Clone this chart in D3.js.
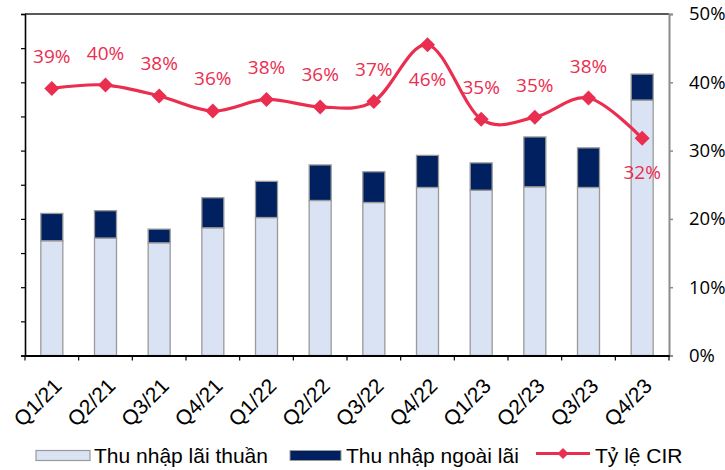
<!DOCTYPE html>
<html>
<head>
<meta charset="utf-8">
<script src="https://cdn.jsdelivr.net/npm/d3@7"></script>
<style>
  html, body { margin: 0; padding: 0; background: #fff; }
  svg { display: block; }
</style>
</head>
<body>
<svg id="chart" width="725" height="470"></svg>
<script>
// ---- Data ----
const categories = ["Q1/21","Q2/21","Q3/21","Q4/21","Q1/22","Q2/22","Q3/22","Q4/22","Q1/23","Q2/23","Q3/23","Q4/23"];
const netInterest = [16.8, 17.2, 16.5, 18.7, 20.2, 22.7, 22.4, 24.6, 24.2, 24.7, 24.6, 37.4];
const nonInterest = [4.0, 4.0, 2.0, 4.4, 5.3, 5.2, 4.5, 4.7, 4.0, 7.3, 5.8, 3.8];
const cirValues = [39.1, 39.6, 38.0, 35.8, 37.5, 36.4, 37.2, 45.5, 34.6, 34.9, 37.7, 31.8];
const cirLabels = ["39%","40%","38%","36%","38%","36%","37%","46%","35%","35%","38%","32%"];
const cirLabelBelow = [false,false,false,false,false,false,false,true,false,false,false,true];
const rightTicks = [0, 10, 20, 30, 40, 50];
const leftTicks = [0,5,10,15,20,25,30,35,40,45,50];
const legendNames = ["Thu nhập lãi thuần", "Thu nhập ngoài lãi", "Tỷ lệ CIR"];

// ---- Layout ----
const L = 25, R = 669, T = 14, B = 355.5;
const colLight = "#DAE3F3", colDark = "#002060", colLine = "#EA2E50", colBarStroke = "#9a9a9a";

const svg = d3.select("#chart");

const x = d3.scaleBand().domain(categories).range([L, R]).paddingInner(0.59).paddingOuter(0.295);
const xb = d3.scaleBand().domain(categories).range([L, R]);
const yL = d3.scaleLinear().domain([0, 50]).range([B, T]);
const yR = d3.scaleLinear().domain([0, 50]).range([B, T]);

const data = categories.map((c, i) => ({c, a: netInterest[i], b: nonInterest[i], r: cirValues[i], lab: cirLabels[i], below: cirLabelBelow[i]}));

// bars
const g = svg.append("g");
g.selectAll("rect.light").data(data).enter().append("rect")
  .attr("x", d => x(d.c)).attr("width", x.bandwidth())
  .attr("y", d => yL(d.a)).attr("height", d => yL(0) - yL(d.a))
  .attr("fill", colLight).attr("stroke", colBarStroke).attr("stroke-width", 1.3);
g.selectAll("rect.dark").data(data).enter().append("rect")
  .attr("x", d => x(d.c)).attr("width", x.bandwidth())
  .attr("y", d => yL(d.a + d.b)).attr("height", d => yL(d.a) - yL(d.a + d.b))
  .attr("fill", colDark).attr("stroke", colBarStroke).attr("stroke-width", 1.3);

// top border
svg.append("line").attr("x1", L).attr("x2", R).attr("y1", T).attr("y2", T)
  .attr("stroke", "#222").attr("stroke-width", 1.5);

// left axis (no labels)
const leftAxis = svg.append("g").attr("transform", `translate(${L},0)`)
  .call(d3.axisLeft(yL).tickValues(leftTicks).tickSize(4).tickFormat(""));
leftAxis.select(".domain").attr("stroke", "#000").attr("stroke-width", 1.6);
leftAxis.selectAll(".tick line").attr("stroke", "#000").attr("stroke-width", 1.2);

// right axis
const rightAxis = svg.append("g").attr("transform", `translate(${R},0)`)
  .call(d3.axisRight(yR).tickValues(rightTicks).tickSize(4).tickPadding(16).tickFormat(d => d + "%"));
rightAxis.select(".domain").attr("stroke", "#8c8c8c").attr("stroke-width", 2);
rightAxis.selectAll(".tick line").attr("stroke", "#8c8c8c").attr("stroke-width", 1.5);
rightAxis.selectAll(".tick text").attr("fill", "#000")
  .style("font-family", "'Open Sans', sans-serif").style("font-size", "18.5px");

// bottom axis
const bottomAxis = svg.append("g").attr("transform", `translate(0,${B})`)
  .call(d3.axisBottom(xb).tickSize(0).tickFormat(""));
bottomAxis.select(".domain").attr("stroke", "#000").attr("stroke-width", 1.8);
const boundaries = d3.range(categories.length + 1).map(i => L + i * xb.step());
svg.append("g").selectAll("line").data(boundaries).enter().append("line")
  .attr("x1", d => d).attr("x2", d => d).attr("y1", B).attr("y2", B + 5)
  .attr("stroke", "#000").attr("stroke-width", 1.2);

// x labels
svg.append("g").selectAll("text").data(categories).enter().append("text")
  .attr("transform", d => `translate(${xb(d) + xb.bandwidth() / 2 + 6},${382}) rotate(-45)`)
  .attr("text-anchor", "end").attr("dy", "0.35em")
  .style("font-family", "'Liberation Sans', Arial, sans-serif").style("font-size", "21px")
  .attr("fill", "#000").text(d => d);

// CIR line
const cx = d => xb(d.c) + xb.bandwidth() / 2;
const line = d3.line().x(cx).y(d => yR(d.r)).curve(d3.curveCardinal.tension(0));
svg.append("path").datum(data).attr("d", line)
  .attr("fill", "none").attr("stroke", colLine).attr("stroke-width", 3.2);
const diamond = (px, py, s) => `M${px},${py - s}L${px + s},${py}L${px},${py + s}L${px - s},${py}Z`;
svg.append("g").selectAll("path").data(data).enter().append("path")
  .attr("d", d => diamond(cx(d), yR(d.r), 7.5)).attr("fill", colLine);

svg.append("g").selectAll("text").data(data).enter().append("text")
  .attr("x", cx).attr("y", d => d.below ? yR(d.r) + 41 : yR(d.r) - 25.5)
  .attr("text-anchor", "middle").attr("fill", colLine)
  .style("font-family", "'Open Sans', sans-serif").style("font-size", "19px")
  .text(d => d.lab);

// legend
const lg = svg.append("g");
const ly = 463;
lg.append("rect").attr("x", 36).attr("y", 450.5).attr("width", 54).attr("height", 10)
  .attr("fill", colLight).attr("stroke", colBarStroke).attr("stroke-width", 1.2);
lg.append("rect").attr("x", 290).attr("y", 450.5).attr("width", 51).attr("height", 10)
  .attr("fill", colDark).attr("stroke", colBarStroke).attr("stroke-width", 1);
lg.append("line").attr("x1", 536).attr("x2", 590).attr("y1", 453.5).attr("y2", 453.5)
  .attr("stroke", colLine).attr("stroke-width", 3.2);
lg.append("path").attr("d", diamond(563, 453.5, 5.5)).attr("fill", colLine);
const legX = [94, 346, 595];
lg.selectAll("text").data(legendNames).enter().append("text")
  .attr("x", (d, i) => legX[i]).attr("y", ly)
  .style("font-family", "'Liberation Sans', Arial, sans-serif").style("font-size", "21px")
  .attr("fill", "#000").text(d => d);
</script>
</body>
</html>
